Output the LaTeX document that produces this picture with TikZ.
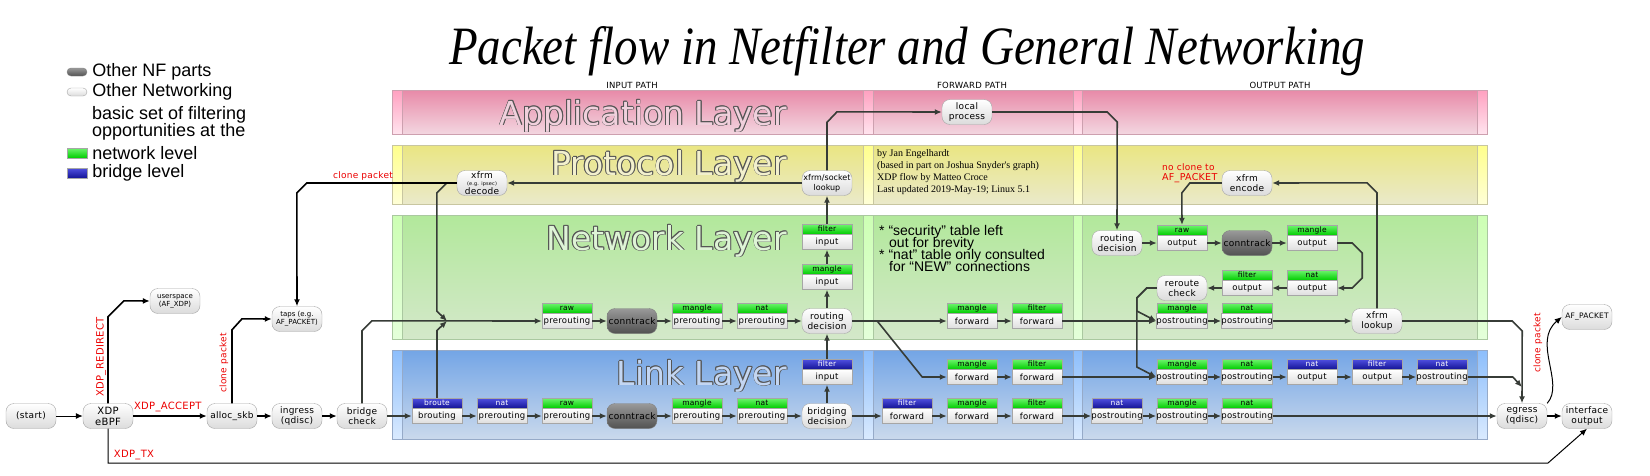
\documentclass[tikz,border=0pt]{standalone}
\usepackage{fontspec}
\usepackage{graphicx}
\usepackage{tikz}
\usetikzlibrary{positioning,arrows.meta}
\setmainfont{DejaVu Sans}
\newfontfamily\nodefont[LetterSpace=3]{DejaVu Sans}
\newfontfamily\plainfont{DejaVu Sans}
\newfontfamily\legendfont{Liberation Sans}
\newfontfamily\creditfont{Liberation Serif}
\newcommand{\tightlines}{\lineskiplimit=-20pt\relax}

\definecolor{apptop}{RGB}{232,138,168}
\definecolor{appbot}{RGB}{243,214,224}
\definecolor{appstrtop}{RGB}{255,160,192}
\definecolor{appstrbot}{RGB}{255,228,238}
\definecolor{appline}{RGB}{205,160,175}
\definecolor{appfill}{RGB}{240,208,220}
\definecolor{prototop}{RGB}{234,230,130}
\definecolor{protobot}{RGB}{234,233,202}
\definecolor{protostrtop}{RGB}{255,255,140}
\definecolor{protostrbot}{RGB}{255,255,215}
\definecolor{protoline}{RGB}{200,198,160}
\definecolor{protofill}{RGB}{242,240,205}
\definecolor{nettop}{RGB}{178,232,155}
\definecolor{netbot}{RGB}{212,232,202}
\definecolor{netstrtop}{RGB}{205,255,180}
\definecolor{netstrbot}{RGB}{228,255,218}
\definecolor{netline}{RGB}{170,200,160}
\definecolor{netfill}{RGB}{222,244,214}
\definecolor{linktop}{RGB}{115,165,230}
\definecolor{linkbot}{RGB}{202,217,236}
\definecolor{linkstrtop}{RGB}{140,190,252}
\definecolor{linkstrbot}{RGB}{218,234,254}
\definecolor{linkline}{RGB}{150,170,200}
\definecolor{linkfill}{RGB}{195,214,242}
\definecolor{flowgray}{RGB}{55,60,55}
\definecolor{xdpred}{RGB}{235,0,0}
\definecolor{iptop}{RGB}{110,245,110}
\definecolor{ipbot}{RGB}{0,205,0}
\definecolor{ebtop}{RGB}{80,80,225}
\definecolor{ebbot}{RGB}{20,20,150}
\definecolor{outlinegray}{RGB}{85,85,85}

% outlined layer names
\newcommand{\outlinetext}[2]{%
  \leavevmode
  \rlap{\color{outlinegray}\hspace*{-0.9pt}#2}%
  \rlap{\color{outlinegray}\hspace*{0.9pt}#2}%
  \rlap{\color{outlinegray}\raisebox{0.9pt}{#2}}%
  \rlap{\color{outlinegray}\raisebox{-0.9pt}{#2}}%
  \rlap{\color{outlinegray}\hspace*{-0.65pt}\raisebox{0.65pt}{#2}}%
  \rlap{\color{outlinegray}\hspace*{0.65pt}\raisebox{0.65pt}{#2}}%
  \rlap{\color{outlinegray}\hspace*{-0.65pt}\raisebox{-0.65pt}{#2}}%
  \rlap{\color{outlinegray}\hspace*{0.65pt}\raisebox{-0.65pt}{#2}}%
  {\color{#1}#2}}

% table/hook box: name, position, table, hook, table style
\newcommand{\chainbox}[5]{%
  \node[hook] (#1) at (#2) {#4};
  \node[#5, above=0pt of #1] (#1-t) {#3};}

\tikzset{
  proc/.style={draw=black!35, rounded corners=8pt, top color=white, bottom color=black!14,
    minimum width=50pt, minimum height=25pt, inner sep=0pt, align=center,
    font=\nodefont\fontsize{9}{10}\selectfont},
  nfproc/.style={proc, top color=black!40, bottom color=black!68, draw=black!50},
  smallproc/.style={proc, font=\plainfont\fontsize{7}{8}\selectfont},
  hook/.style={draw=black!35, top color=white, bottom color=black!13, minimum width=50pt,
    minimum height=15pt, inner sep=0pt, font=\nodefont\fontsize{8.5}{10}\selectfont},
  ipt/.style={draw=black!35, top color=iptop, bottom color=ipbot, minimum width=50pt,
    minimum height=10pt, inner sep=0pt, font=\nodefont\fontsize{7.5}{8}\selectfont},
  ebt/.style={ipt, top color=ebtop, bottom color=ebbot, text=white},
  flow/.style={draw=flowgray, line width=1.6pt, -{Latex[length=7pt,width=6pt]}},
  xdpflow/.style={draw=black, line width=1.6pt, -{Latex[length=7pt,width=6pt]}},
  thinflow/.style={draw=black, line width=1pt, -{Latex[length=7pt,width=6pt]}},
  xdplabel/.style={text=xdpred, font=\nodefont\fontsize{10}{12}\selectfont, inner sep=1pt},
  clonelabel/.style={xdplabel, font=\nodefont\fontsize{9}{10}\selectfont},
  layertitle/.style={inner sep=0pt, font=\plainfont\fontsize{33}{33}\selectfont},
  pathtitle/.style={inner sep=0pt, font=\nodefont\fontsize{8.5}{10}\selectfont},
  legendtext/.style={inner sep=0pt, align=left,
    font=\legendfont\fontsize{18}{17}\selectfont\tightlines},
}

\begin{document}
\begin{tikzpicture}[x=1pt, y=-1pt]
\useasboundingbox (0,0) rectangle (1650,475);

% title
\node[anchor=base, font=\creditfont\itshape\fontsize{54}{54}\selectfont] (title) at (907,64)
  {\scalebox{0.87}[1]{Packet flow in Netfilter and General Networking}};

% legend
\node[nfproc, minimum width=20pt, minimum height=8pt, rounded corners=4pt] (legnf) at (77,72) {};
\node[proc, minimum width=20pt, minimum height=8pt, rounded corners=4pt] (legnet) at (77,92) {};
\node[ipt, minimum width=20pt] (legipt) at (77,153) {};
\node[ebt, minimum width=20pt] (legebt) at (77,173) {};
\node[legendtext, right=5pt of legnf] (legnftext) {Other NF parts};
\node[legendtext, right=5pt of legnet] (legnettext) {Other Networking};
\node[legendtext, anchor=west] (legbasic) at (92,123) {basic set of filtering\\opportunities at the};
\node[legendtext, right=5pt of legipt] (legipttext) {network level};
\node[legendtext, right=5pt of legebt] (legebttext) {bridge level};

% layer bands
\foreach \lay/\ytop/\ybot in {app/90/134, proto/145/204, net/215/339, link/350/439} {
  \draw[draw=\lay line, top color=\lay top, bottom color=\lay bot] (392,\ytop) rectangle (1487,\ybot);
  \foreach \xl/\xr in {392/402, 863/873, 1073/1082, 1477/1487}
    \draw[draw=\lay line, line width=0.4pt, top color=\lay strtop, bottom color=\lay strbot]
      (\xl,\ytop) rectangle (\xr,\ybot);
}
\node[layertitle, anchor=base east] (applayer) at (787,125) {\outlinetext{appfill}{Application Layer}};
\node[layertitle, anchor=base east] (protolayer) at (787,175) {\outlinetext{protofill}{Protocol Layer}};
\node[layertitle, anchor=base east] (netlayer) at (787,250) {\outlinetext{netfill}{Network Layer}};
\node[layertitle, anchor=base east] (linklayer) at (787,385) {\outlinetext{linkfill}{Link Layer}};

\node[pathtitle] (inputpath) at (632,85) {INPUT PATH};
\node[pathtitle] (forwardpath) at (972,85) {FORWARD PATH};
\node[pathtitle] (outputpath) at (1280,85) {OUTPUT PATH};

% notes
\node[anchor=north west, inner sep=0pt, align=left, font=\creditfont\fontsize{10}{12}\selectfont] (credits) at (877,149)
  {by Jan Engelhardt\\(based in part on Joshua Snyder's graph)\\XDP flow by Matteo Croce\\Last updated 2019-May-19; Linux 5.1};
\node[anchor=north west, inner sep=0pt, align=left,
  font=\legendfont\fontsize{14}{12}\selectfont\tightlines] (notes) at (879,225)
  {* “security” table left\\\hspace*{10pt}out for brevity\\* “nat” table only consulted\\\hspace*{10pt}for “NEW” connections};

% link layer, bottom row
\node[proc] (start) at (31,416) {(start)};
\node[proc, font=\nodefont\fontsize{10}{11}\selectfont] (xdp) at (108,416) {XDP\\eBPF};
\node[proc] (allocskb) at (232,416) {alloc\_skb};
\node[proc] (ingress) at (297,416) {ingress\\(qdisc)};
\node[proc] (bridgecheck) at (362,416) {bridge\\check};
\chainbox{lbrouting}{437,416}{broute}{brouting}{ebt}
\chainbox{lnatpre}{502,416}{nat}{prerouting}{ebt}
\chainbox{lrawpre}{567,416}{raw}{prerouting}{ipt}
\node[nfproc] (lconntrack) at (632,416) {conntrack};
\chainbox{lmanglepre}{697,416}{mangle}{prerouting}{ipt}
\chainbox{lnatpre2}{762,416}{nat}{prerouting}{ipt}
\node[proc] (bridgingdec) at (827,416) {bridging\\decision};
\chainbox{lfilterfwd}{907,416}{filter}{forward}{ebt}
\chainbox{lmanglefwd}{972,416}{mangle}{forward}{ipt}
\chainbox{lfilterfwd2}{1037,416}{filter}{forward}{ipt}
\chainbox{lnatpost}{1117,416}{nat}{postrouting}{ebt}
\chainbox{lmanglepost}{1182,416}{mangle}{postrouting}{ipt}
\chainbox{lnatpost2}{1247,416}{nat}{postrouting}{ipt}
\node[proc] (egress) at (1522,416) {egress\\(qdisc)};
\node[proc] (ifout) at (1587,416) {interface\\output};
\node[proc, font=\nodefont\fontsize{7.5}{9}\selectfont] (afpacket) at (1587,317) {AF\_PACKET};
\node[smallproc] (userspace) at (175,301) {userspace\\(AF\_XDP)};
\node[smallproc] (taps) at (297,319) {taps (e.g.\\AF\_PACKET)};

% link layer, upper row
\chainbox{lfilterin}{827,377}{filter}{input}{ebt}
\chainbox{bmanglefwd}{972,377}{mangle}{forward}{ipt}
\chainbox{bfilterfwd}{1037,377}{filter}{forward}{ipt}
\chainbox{bmanglepost}{1182,377}{mangle}{postrouting}{ipt}
\chainbox{bnatpost}{1247,377}{nat}{postrouting}{ipt}
\chainbox{bnatout}{1312,377}{nat}{output}{ebt}
\chainbox{bfilterout}{1377,377}{filter}{output}{ebt}
\chainbox{bnatpost2}{1442,377}{nat}{postrouting}{ebt}

% network layer
\chainbox{nrawpre}{567,321}{raw}{prerouting}{ipt}
\node[nfproc] (nconntrack) at (632,321) {conntrack};
\chainbox{nmanglepre}{697,321}{mangle}{prerouting}{ipt}
\chainbox{nnatpre}{762,321}{nat}{prerouting}{ipt}
\node[proc] (routingdec) at (827,321) {routing\\decision};
\chainbox{nmanglein}{827,282}{mangle}{input}{ipt}
\chainbox{nfilterin}{827,242}{filter}{input}{ipt}
\chainbox{nmanglefwd}{972,321}{mangle}{forward}{ipt}
\chainbox{nfilterfwd}{1037,321}{filter}{forward}{ipt}
\chainbox{nmanglepost}{1182,321}{mangle}{postrouting}{ipt}
\chainbox{nnatpost}{1247,321}{nat}{postrouting}{ipt}
\node[proc] (xfrmlookup) at (1377,321) {xfrm\\lookup};
\node[proc] (outrouting) at (1117,243) {routing\\decision};
\chainbox{orawout}{1182,243}{raw}{output}{ipt}
\node[nfproc] (oconntrack) at (1247,243) {conntrack};
\chainbox{omangleout}{1312,243}{mangle}{output}{ipt}
\chainbox{onatout}{1312,288}{nat}{output}{ipt}
\chainbox{ofilterout}{1247,288}{filter}{output}{ipt}
\node[proc] (reroute) at (1182,288) {reroute\\check};

% protocol and application layer
\node[proc, font=\plainfont\fontsize{8}{10}\selectfont] (xfrmsocket) at (827,183) {xfrm/socket\\lookup};
\node[proc, font=\nodefont\fontsize{9}{7.5}\selectfont] (xfrmdecode) at (482,183)
  {xfrm\\{\fontsize{5}{5}\selectfont(e.g. ipsec)}\\decode};
\node[proc] (xfrmencode) at (1247,183) {xfrm\\encode};
\node[proc] (localproc) at (967,112) {local\\process};

\coordinate (merge) at (447,321);
\coordinate (egressjoin) at (1522,387);

% XDP part
\draw[thinflow] (start) -- (xdp);
\draw[xdpflow] (xdp) -- node[xdplabel, above, pos=0.47, yshift=2pt] (laccept) {XDP\_ACCEPT} (allocskb);
\draw[xdpflow] (xdp.north) -- ++(0,-86.5) -- ++(16,-16) -- (userspace.west);
\draw[thinflow] (xdp.south) |- (1548,463) -- (ifout.south);
\node[xdplabel, rotate=90] (lredirect) at (101,357) {XDP\_REDIRECT};
\node[xdplabel] (ltx) at (134,455) {XDP\_TX};
\draw[xdpflow] (allocskb.north) -- ++(0,-73.5) -- ++(10,-11) -- (taps.west);
\node[clonelabel, rotate=90] (lclone2) at (224,363) {clone packet};
\draw[xdpflow] (allocskb) -- (ingress);
\draw[xdpflow] (ingress) -- (bridgecheck);

% input path
\draw[flow] (bridgecheck) -- (lbrouting);
\draw[flow] (bridgecheck.north) -- ++(0,-72.5) -- ++(10,-10) -- (nrawpre.west);
\draw[flow] (lbrouting-t.north) -- ++(0,-67.5) -- (merge);
\draw[flow] (xfrmdecode.west) -- ++(-10,0) -- ++(-10,10) -- ++(0,118) -- (merge);
\draw[xdpflow] (xfrmdecode.west) -- ++(-150,0) -- ++(-10,10) -- (taps.north);
\node[clonelabel] (lclone1) at (363,176) {clone packet};
\foreach \a/\b in {lbrouting/lnatpre, lnatpre/lrawpre, lrawpre/lconntrack, lconntrack/lmanglepre,
    lmanglepre/lnatpre2, lnatpre2/bridgingdec, bridgingdec/lfilterfwd, lfilterfwd/lmanglefwd,
    lmanglefwd/lfilterfwd2, lfilterfwd2/lnatpost, lnatpost/lmanglepost, lmanglepost/lnatpost2,
    lnatpost2/egress, nrawpre/nconntrack, nconntrack/nmanglepre, nmanglepre/nnatpre,
    nnatpre/routingdec}
  \draw[flow] (\a) -- (\b);
\draw[flow] (bridgingdec) -- (lfilterin);
\draw[flow] (lfilterin-t) -- (routingdec);
\draw[flow] (routingdec) -- (nmanglein);
\draw[flow] (nmanglein-t) -- (nfilterin);
\draw[flow] (nfilterin-t) -- (xfrmsocket);
\draw[flow] (xfrmsocket) -- (xfrmdecode);
\draw[flow] (xfrmsocket.north) -- ++(0,-48) -- ++(10,-10.5) -- (localproc.west);

% forward path
\draw[flow] (routingdec) -- (nmanglefwd);
\draw[flow] (routingdec.east) -- ++(25,0) -- ++(45,56) -- (bmanglefwd.west);
\foreach \a/\b in {nmanglefwd/nfilterfwd, nfilterfwd/nmanglepost, nmanglepost/nnatpost,
    nnatpost/xfrmlookup, bmanglefwd/bfilterfwd, bfilterfwd/bmanglepost, bmanglepost/bnatpost,
    bnatpost/bnatout, bnatout/bfilterout, bfilterout/bnatpost2}
  \draw[flow] (\a) -- (\b);

% output path
\draw[flow] (localproc.east) -- ++(115,0) -- ++(10,10) -- (outrouting.north);
\foreach \a/\b in {outrouting/orawout, orawout/oconntrack, oconntrack/omangleout,
    onatout/ofilterout, ofilterout/reroute}
  \draw[flow] (\a) -- (\b);
\draw[flow] (omangleout.east) -- ++(15,0) -- ++(10,10) -- ++(0,25) -- ++(-10,10) -- (onatout.east);
\draw[flow] (reroute.west) -- ++(-10,0) -- ++(-10,10) -- ++(0,13) -- (nmanglepost.west);
\draw[flow] (reroute.west) -- ++(-10,0) -- ++(-10,10) -- ++(0,69) -- (bmanglepost.west);
\draw[flow] (xfrmlookup.north) -- ++(0,-115.5) -- ++(-10,-10) -- (xfrmencode.east);
\draw[flow] (xfrmencode.west) -- ++(-32,0) -- ++(-8,10) -- (orawout-t.north);
\node[clonelabel, anchor=west] (lnoclone) at (1161,167) {no clone to};
\node[xdplabel, font=\nodefont\fontsize{9.5}{10}\selectfont, anchor=west] (lnoaf) at (1161,178) {AF\_PACKET};
\draw[flow] (xfrmlookup.east) -- ++(110,0) -- ++(10,10) -- (egress.north);
\draw[flow] (bnatpost2.east) -- ++(45,0) -- (egressjoin);
\draw[xdpflow] (egress) -- (ifout);
\draw[thinflow] (egress.north east) .. controls +(18,-20) and +(-30,25) .. (afpacket.west);
\node[clonelabel, rotate=90] (lclone3) at (1538,343) {clone packet};
\end{tikzpicture}
\end{document}
